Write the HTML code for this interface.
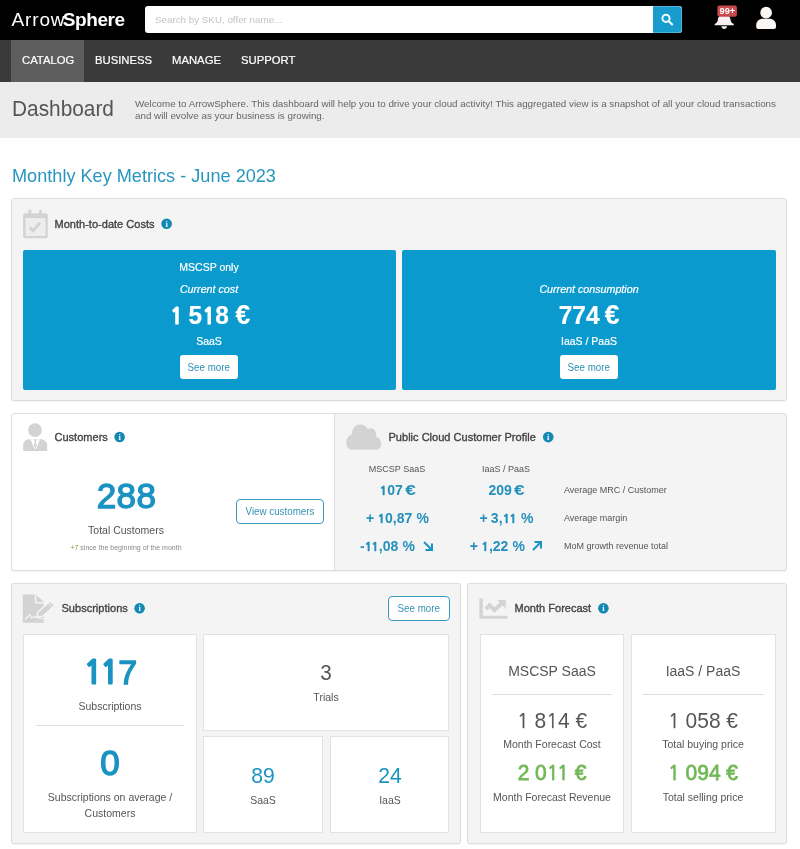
<!DOCTYPE html>
<html lang="en">
<head>
<meta charset="utf-8">
<title>ArrowSphere - Dashboard</title>
<style>
*{box-sizing:border-box;margin:0;padding:0}
html,body{width:800px;height:849px;overflow:hidden;background:#fff}
body{font-family:"Liberation Sans",Arial,sans-serif;color:#555;position:relative;font-size:11px}
.abs{position:absolute}
.c{position:absolute;text-align:center;white-space:nowrap;transform:translate(-50%,-50%) scaleX(var(--sx,1));line-height:1}
.l{position:absolute;white-space:nowrap;transform-origin:left center;transform:translateY(-50%) scaleX(var(--sx,1));line-height:1}
#top{left:0;top:0;width:800px;height:40px;background:#000}
#nav{left:0;top:40px;width:800px;height:42px;background:#3a3a3a}
#hdr{left:0;top:82px;width:800px;height:56px;background:#ececec}
.logo{left:11.5px;top:19.3px;color:#fff;font-size:19px}
.logo i{font-style:normal;letter-spacing:0.85px}
.logo b{letter-spacing:-0.42px;margin-left:-2.6px}
.logo b{font-weight:700}
#search{left:145px;top:6px;width:537px;height:27px;background:#fff;border-radius:3px;overflow:hidden}
#search span{position:absolute;left:10px;top:9px;font-size:9.8px;color:#c4c4c4;line-height:1}
#sbtn{position:absolute;right:0;top:0;width:29px;height:27px;background:#189ccd;border:1px solid #4fb3d9;border-left-color:#189ccd;border-radius:0 3px 3px 0}
.tab{color:#fff;font-size:11.3px;top:60.5px;-webkit-text-stroke:0.2px #fff}
#act{left:11px;top:40px;width:73px;height:42px;background:#5f5e5e}
h1{font-weight:400;font-size:22px;color:#555;left:12px;top:109px;--sx:0.947}
.desc{left:135px;font-size:9.8px;color:#666}
h2{font-weight:400;font-size:19px;color:#2896bd;left:12px;top:174.8px;--sx:0.954}
.panel{position:absolute;background:#f4f4f5;border:1px solid #ddd;border-radius:3px;box-shadow:0 1px 1px rgba(0,0,0,.05)}
.pt{font-size:11px;color:#444;-webkit-text-stroke:0.35px #444;margin-left:0.5px;letter-spacing:0.02px}
.blue{position:absolute;background:#0b9acd;border-radius:2px}
.w{color:#fff;-webkit-text-stroke:0.2px #fff}
.btnw{position:absolute;background:#fff;border-radius:3px;color:#2a8fb5;font-size:10.5px;text-align:center}
.btnw span,.btno span{display:inline-block;transform:scaleX(0.93)}
.btno{position:absolute;background:#fff;border:1px solid #3a9bbd;border-radius:4px;color:#3592b4;font-size:10.5px;text-align:center}
.card{position:absolute;background:#fff;border:1px solid #e2e2e2}
.bl{color:#1a93c2}
.gr{color:#72b856}
.big{font-size:35px;font-weight:400;-webkit-text-stroke:1.35px #1a93c2;letter-spacing:0.4px;text-indent:0.4px}
.n1{font-family:NanumGothic,"Liberation Sans",sans-serif;font-size:0.926em;-webkit-text-stroke-width:0.25px}
.n1b{font-family:NanumGothic,"Liberation Sans",sans-serif;font-size:0.875em;-webkit-text-stroke:1.1px #fff;margin:0 0.2px}
.v{font-weight:700;color:#2490bb;margin-top:0.3px}
.eu{display:inline-block;transform:scaleX(1.36)}
.v .n1{font-size:0.9em;-webkit-text-stroke:0.5px #2490bb!important}
.hr{position:absolute;height:1px;background:#ddd}
</style>
</head>
<body>
<div id="top" class="abs"></div>
<div class="l logo"><i>Arrow</i><b>Sphere</b></div>
<div id="search" class="abs"><span>Search by SKU, offer name...</span><div id="sbtn">
<svg width="27" height="25" viewBox="0 0 27 25" style="position:absolute;left:0;top:0"><circle cx="12" cy="11.3" r="3.6" fill="none" stroke="#e8fbff" stroke-width="2"/><path d="M14.6 14 L18 17.4" stroke="#e8fbff" stroke-width="2.2" stroke-linecap="round"/></svg>
</div></div>
<!-- bell -->
<svg class="abs" style="left:700px;top:0px" width="90" height="40" viewBox="0 0 800 356">
<path d="M215 130 C170 130 160 160 158 180 C155 200 140 208 130 214 L130 224 L300 224 L300 214 C290 208 275 200 272 180 C270 160 260 130 215 130 Z" fill="#f7f0f0"/>
<path d="M190 234 L240 234 C238 250 228 258 215 258 C202 258 192 250 190 234 Z" fill="#f7f0f0"/>
<rect x="154" y="50" width="174" height="98" rx="18" fill="#c9484d"/>
<text x="243" y="126" font-size="76" font-weight="700" fill="#fff" text-anchor="middle" font-family="Liberation Sans, sans-serif" textLength="140" lengthAdjust="spacingAndGlyphs">99+</text>
<circle cx="588" cy="113" r="52" fill="#fbf7f5"/>
<path d="M500 240 L500 225 C500 190 525 167 560 167 L616 167 C651 167 676 190 676 225 L676 240 Q676 258 658 258 L518 258 Q500 258 500 240 Z" fill="#fbf7f5"/>
</svg>

<div id="nav" class="abs"></div>
<div id="act" class="abs"></div>
<div class="l tab" style="left:22px">CATALOG</div>
<div class="l tab" style="left:95px">BUSINESS</div>
<div class="l tab" style="left:172px">MANAGE</div>
<div class="l tab" style="left:241px">SUPPORT</div>

<div id="hdr" class="abs"></div>
<h1 class="l">Dashboard</h1>
<div class="l desc" style="top:104px">Welcome to ArrowSphere. This dashboard will help you to drive your cloud activity! This aggregated view is a snapshot of all your cloud transactions</div>
<div class="l desc" style="top:116px">and will evolve as your business is growing.</div>

<h2 class="l">Monthly Key Metrics - June 2023</h2>

<!-- Panel 1 -->
<div class="panel" style="left:11px;top:198px;width:776px;height:203px"></div>
<svg class="abs" style="left:15px;top:202px" width="50" height="45" viewBox="0 0 800 720">
<rect x="130" y="180" width="395" height="400" rx="28" fill="#d3d3d3"/>
<rect x="168" y="255" width="320" height="288" rx="6" fill="#ededed"/>
<rect x="215" y="125" width="46" height="80" rx="10" fill="#d3d3d3"/><rect x="385" y="125" width="46" height="80" rx="10" fill="#d3d3d3"/>
<path d="M232 405 L288 462 L402 332" fill="none" stroke="#d3d3d3" stroke-width="46"/>
</svg>
<div class="l pt" style="left:54px;top:224px">Month-to-date Costs</div>
<svg class="abs" style="left:158px;top:215px" width="16" height="16" viewBox="0 0 16 16"><circle cx="8.60" cy="8.70" r="5.3" fill="#1487b3"/><text x="8.60" y="11.60" font-size="8.5" font-weight="700" fill="#e6fbff" text-anchor="middle" font-family="Liberation Serif, serif">i</text></svg>

<div class="blue" style="left:23px;top:250px;width:373px;height:140px"></div>
<div class="blue" style="left:402px;top:250px;width:374px;height:140px"></div>
<div class="c w" style="left:209px;top:267px;font-size:10.5px">MSCSP only</div>
<div class="c w" style="left:209px;top:289px;font-size:10.7px;font-style:italic">Current cost</div>
<div class="c w" style="left:210.3px;top:315px;font-size:26px;font-weight:700;--sx:0.94"><span style="margin-right:-1.6px"><span class="n1b">1</span> </span>5<span class="n1b">1</span>8<span style="margin-left:-0.8px;font-size:28px;line-height:0"> €</span></div>
<div class="c w" style="left:209px;top:341px;font-size:10.5px">SaaS</div>
<div class="btnw" style="left:180px;top:355px;width:58px;height:24px;line-height:24px"><span>See more</span></div>
<div class="c w" style="left:589px;top:289px;font-size:10.7px;font-style:italic">Current consumption</div>
<div class="c w" style="left:588.6px;top:315px;font-size:26px;font-weight:700;--sx:0.94">774<span style="margin-left:-2.3px;font-size:28px;line-height:0"> €</span></div>
<div class="c w" style="left:589px;top:341px;font-size:10.5px">IaaS / PaaS</div>
<div class="btnw" style="left:560px;top:355px;width:58px;height:24px;line-height:24px"><span>See more</span></div>

<!-- Panel 2 -->
<div class="panel" style="left:11px;top:413px;width:776px;height:158px"></div>
<div class="abs" style="left:12px;top:414px;width:323px;height:156px;background:#fff;border-right:1px solid #ddd;border-radius:3px 0 0 3px"></div>
<svg class="abs" style="left:15px;top:415px" width="50" height="45" viewBox="0 0 800 720">
<circle cx="320" cy="243" r="110" fill="#d3d3d3"/>
<path d="M130 560 L130 480 C130 430 170 395 215 388 L425 388 C470 395 515 430 515 480 L515 560 Q515 575 500 575 L145 575 Q130 575 130 560 Z" fill="#d3d3d3"/>
<path d="M245 386 L400 386 L340 540 L310 540 Z" fill="#fff"/>
<path d="M303 388 L347 388 L335 425 L348 500 L325 530 L302 500 L315 425 Z" fill="#d3d3d3"/>
</svg>
<div class="l pt" style="left:54px;top:437px">Customers</div>
<svg class="abs" style="left:111px;top:428px" width="16" height="16" viewBox="0 0 16 16"><circle cx="8.60" cy="8.95" r="5.3" fill="#1487b3"/><text x="8.60" y="11.85" font-size="8.5" font-weight="700" fill="#e6fbff" text-anchor="middle" font-family="Liberation Serif, serif">i</text></svg>
<div class="c bl big" style="left:126.3px;top:494.7px">288</div>
<div class="c" style="left:126px;top:530px;font-size:10.5px">Total Customers</div>
<div class="c" style="left:126px;top:547px;font-size:7px;color:#888"><span style="color:#8a9a3a">+7</span> since the beginning of the month</div>
<div class="btno" style="left:236px;top:499px;width:88px;height:25px;line-height:23px"><span>View customers</span></div>

<svg class="abs" style="left:340px;top:415px" width="50" height="45" viewBox="0 0 800 720">
<path d="M190 555 C130 555 100 500 100 440 C100 370 140 320 190 310 C190 220 240 150 320 150 C380 150 420 180 445 225 C470 208 505 205 535 225 C572 250 585 300 580 350 C630 360 660 400 660 455 C660 510 630 555 580 555 Z" fill="#d3d3d3"/>
</svg>
<div class="l pt" style="left:388px;top:437px">Public Cloud Customer Profile</div>
<svg class="abs" style="left:540px;top:429px" width="16" height="16" viewBox="0 0 16 16"><circle cx="8.25" cy="8.10" r="5.3" fill="#1487b3"/><text x="8.25" y="11.00" font-size="8.5" font-weight="700" fill="#e6fbff" text-anchor="middle" font-family="Liberation Serif, serif">i</text></svg>
<div class="c" style="left:397px;top:468.7px;font-size:9px">MSCSP SaaS</div>
<div class="c" style="left:506px;top:468.7px;font-size:9px">IaaS / PaaS</div>
<div class="c bl v" style="left:397px;top:490px;font-size:14px"><span class="n1" style="-webkit-text-stroke-width:0.75px">1</span>07 <span class="eu">€</span></div>
<div class="c bl v" style="left:506px;top:490px;font-size:14px">209 <span class="eu">€</span></div>
<div class="c bl v" style="left:397.4px;top:518px;font-size:14px;word-spacing:-0.6px">+ <span class="n1" style="-webkit-text-stroke-width:0.75px">1</span>0,87 <span style="margin-left:0.8px">%</span></div>
<div class="c bl v" style="left:506.4px;top:518px;font-size:14px;word-spacing:-0.6px">+ 3,<span class="n1" style="-webkit-text-stroke-width:0.75px"><span style="letter-spacing:-1px">1</span>1</span> <span style="margin-left:0.8px">%</span></div>
<div class="c bl v" style="left:387.4px;top:546px;font-size:14px;word-spacing:-0.6px">-<span class="n1" style="-webkit-text-stroke-width:0.75px"><span style="letter-spacing:-1px">1</span>1</span>,08 <span style="margin-left:0.8px">%</span></div>
<div class="c bl v" style="left:497.4px;top:546px;font-size:14px;word-spacing:-0.6px">+ <span class="n1" style="-webkit-text-stroke-width:0.75px">1</span>,22 <span style="margin-left:0.8px">%</span></div>
<svg class="abs" style="left:422px;top:540px" width="12" height="12" viewBox="0 0 12 12"><path d="M2 2 L10 10 M10 3.5 L10 10 L3.5 10" fill="none" stroke="#1a93c2" stroke-width="2"/></svg>
<svg class="abs" style="left:531px;top:540px" width="12" height="12" viewBox="0 0 12 12"><path d="M2 10 L10 2 M3.5 2 L10 2 L10 8.5" fill="none" stroke="#1a93c2" stroke-width="2"/></svg>
<div class="l" style="left:564px;top:490px;font-size:9px">Average MRC / Customer</div>
<div class="l" style="left:564px;top:518px;font-size:9px">Average margin</div>
<div class="l" style="left:564px;top:546px;font-size:9px">MoM growth revenue total</div>

<!-- Panel 3 -->
<div class="panel" style="left:11px;top:583px;width:450px;height:261px"></div>
<svg class="abs" style="left:15px;top:585px" width="50" height="45" viewBox="0 0 800 720">
<path d="M125 150 L335 150 L460 272 L460 605 L125 605 Z" fill="#d3d3d3"/>
<path d="M330 150 L330 282 L462 282" fill="none" stroke="#f4f4f5" stroke-width="24"/>
<path d="M160 552 L238 476 L268 528 L300 508 L345 520 L462 548" fill="none" stroke="#f4f4f5" stroke-width="20"/>
<path d="M345 515 L368 432 L565 255 L640 325 L445 500 Z" fill="#d3d3d3" stroke="#f4f4f5" stroke-width="26" stroke-linejoin="round"/>
<path d="M528 290 L602 358" fill="none" stroke="#f4f4f5" stroke-width="14"/>
</svg>
<div class="l pt" style="left:61px;top:608px">Subscriptions</div>
<svg class="abs" style="left:131px;top:600px" width="16" height="16" viewBox="0 0 16 16"><circle cx="8.60" cy="8.25" r="5.3" fill="#1487b3"/><text x="8.60" y="11.15" font-size="8.5" font-weight="700" fill="#e6fbff" text-anchor="middle" font-family="Liberation Serif, serif">i</text></svg>
<div class="btno" style="left:388px;top:596px;width:62px;height:25px;line-height:23px"><span>See more</span></div>
<div class="card" style="left:23px;top:634px;width:174px;height:199px"></div>
<div class="card" style="left:203px;top:634px;width:246px;height:97px"></div>
<div class="card" style="left:203px;top:736px;width:120px;height:97px"></div>
<div class="card" style="left:330px;top:736px;width:119px;height:97px"></div>
<div id="n117" class="c bl big" style="left:110.2px;top:672px"><span class="n1" style="font-weight:700;font-size:32.5px;letter-spacing:-3.3px;-webkit-text-stroke:1.2px #1a93c2">11</span><span style="margin-left:2.2px;font-size:34px">7</span></div>
<div class="c" style="left:110px;top:706px;font-size:10.5px">Subscriptions</div>
<div class="hr" style="left:36px;top:725px;width:148px"></div>
<div class="c bl big" style="left:110px;top:762.3px">0</div>
<div class="c" style="left:110px;top:797px;font-size:10.5px">Subscriptions on average /</div>
<div class="c" style="left:110px;top:813px;font-size:10.5px">Customers</div>
<div class="c" style="left:326px;top:673px;font-size:22px;--sx:0.94">3</div>
<div class="c" style="left:326px;top:697px;font-size:10.5px">Trials</div>
<div class="c bl" style="left:263px;top:776px;font-size:22px;--sx:0.96">89</div>
<div class="c" style="left:263px;top:800px;font-size:10.5px">SaaS</div>
<div class="c bl" style="left:390px;top:776px;font-size:22px;--sx:0.96">24</div>
<div class="c" style="left:390px;top:800px;font-size:10.5px">IaaS</div>

<!-- Panel 4 -->
<div class="panel" style="left:467px;top:583px;width:320px;height:261px"></div>
<svg class="abs" style="left:470px;top:585px" width="50" height="45" viewBox="0 0 800 720">
<path d="M150 215 L205 215 L205 490 L600 490 L600 540 L150 540 Z" fill="#d3d3d3"/>
<path d="M255 385 L312 325 L392 400 L500 300" fill="none" stroke="#d3d3d3" stroke-width="62"/>
<path d="M435 240 L572 240 L572 375 Z" fill="#d3d3d3"/>
</svg>
<div class="l pt" style="left:514px;top:608px">Month Forecast</div>
<svg class="abs" style="left:595px;top:600px" width="16" height="16" viewBox="0 0 16 16"><circle cx="8.40" cy="8.25" r="5.3" fill="#1487b3"/><text x="8.40" y="11.15" font-size="8.5" font-weight="700" fill="#e6fbff" text-anchor="middle" font-family="Liberation Serif, serif">i</text></svg>
<div class="card" style="left:480px;top:634px;width:144px;height:199px"></div>
<div class="card" style="left:631px;top:634px;width:145px;height:199px"></div>
<div class="c" style="left:552px;top:671px;font-size:14px;color:#555">MSCSP SaaS</div>
<div class="hr" style="left:492px;top:694px;width:120px"></div>
<div class="c" style="left:552px;top:721px;font-size:22px;--sx:0.953;color:#555"><span class="n1">1</span> 8<span class="n1">1</span>4 €</div>
<div class="c" style="left:552px;top:744px;font-size:10.5px">Month Forecast Cost</div>
<div class="c gr" style="left:552px;top:773px;font-size:22px;--sx:0.953;-webkit-text-stroke:0.8px #72b856">2 0<span class="n1" style="-webkit-text-stroke-width:0.9px"><span style="letter-spacing:-1.5px">1</span>1</span> €</div>
<div class="c" style="left:552px;top:797px;font-size:10.5px">Month Forecast Revenue</div>
<div class="c" style="left:703px;top:671px;font-size:14px;color:#555">IaaS / PaaS</div>
<div class="hr" style="left:643px;top:694px;width:121px"></div>
<div class="c" style="left:703px;top:721px;font-size:22px;--sx:0.953;color:#555"><span class="n1">1</span> 058 €</div>
<div class="c" style="left:703px;top:744px;font-size:10.5px">Total buying price</div>
<div class="c gr" style="left:703px;top:773px;font-size:22px;--sx:0.953;-webkit-text-stroke:0.8px #72b856"><span class="n1" style="-webkit-text-stroke-width:0.9px">1</span> 094 €</div>
<div class="c" style="left:703px;top:797px;font-size:10.5px">Total selling price</div>
</body>
</html>
